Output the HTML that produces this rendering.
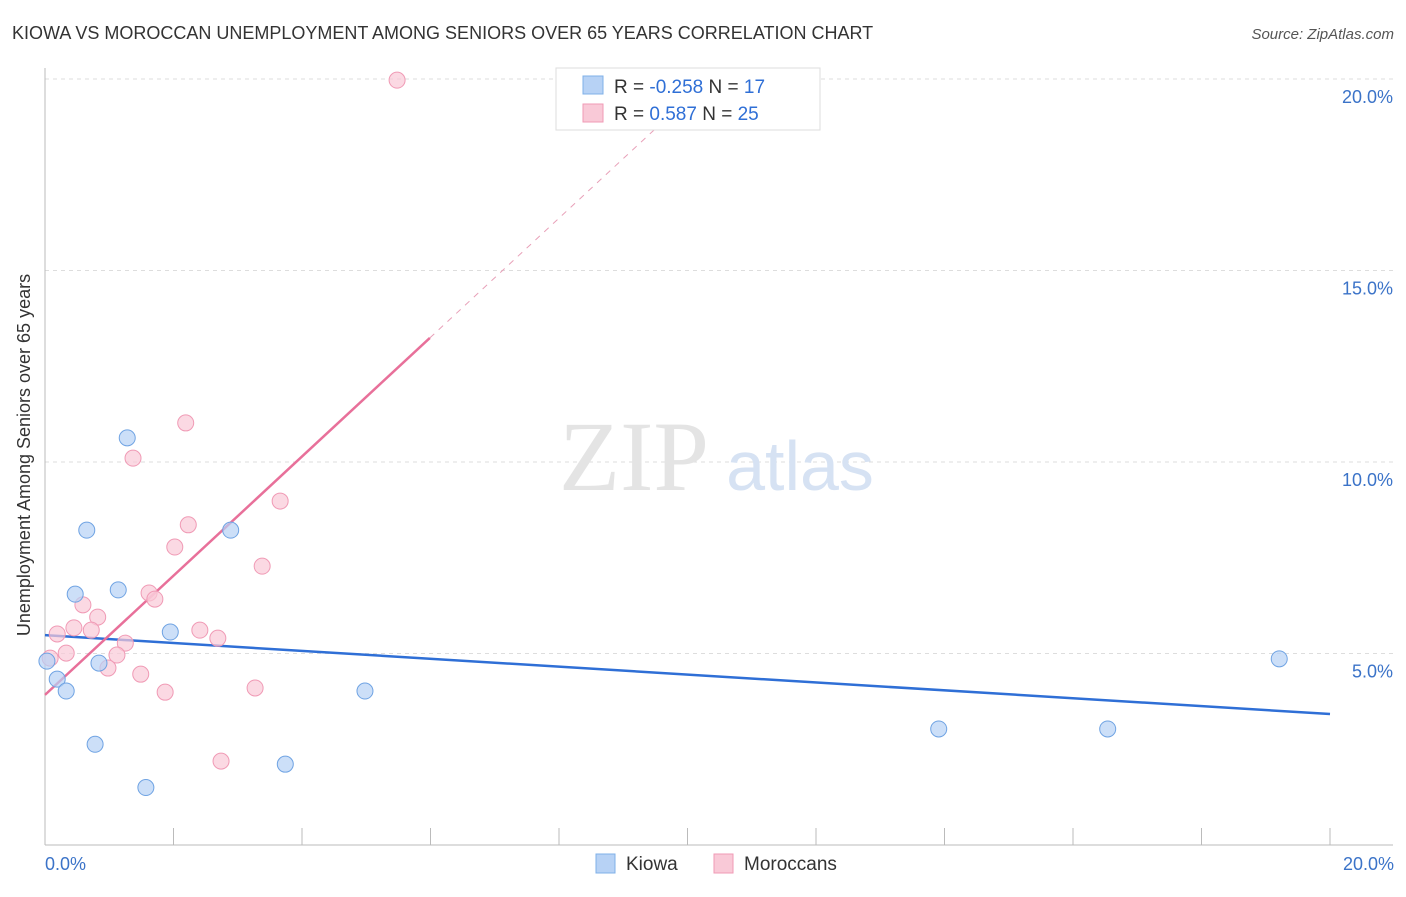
<!DOCTYPE html>
<html><head><meta charset="utf-8"><style>
body{margin:0;background:#fff;font-family:"Liberation Sans",sans-serif;}
</style></head><body>
<svg width="1406" height="892" xmlns="http://www.w3.org/2000/svg" font-family="Liberation Sans, sans-serif">
<text x="12" y="39" font-size="18" fill="#333">KIOWA VS MOROCCAN UNEMPLOYMENT AMONG SENIORS OVER 65 YEARS CORRELATION CHART</text>
<text x="1394" y="39" font-size="15" fill="#555" font-style="italic" text-anchor="end">Source: ZipAtlas.com</text>
<g id="grid"></g>
<text x="634" y="490" font-size="100" fill="#e4e4e4" font-family="Liberation Serif, serif" text-anchor="middle">ZIP</text>
<text x="800" y="490" font-size="70" fill="#d6e2f3" text-anchor="middle">atlas</text>
<g id="lines"></g>
<g id="pts"></g>
<text x="30" y="455" font-size="18" fill="#333" text-anchor="middle" transform="rotate(-90 30 455)">Unemployment Among Seniors over 65 years</text>
<text x="45" y="870" font-size="18" fill="#3b73c8">0.0%</text>
<text x="1394" y="870" font-size="18" fill="#3b73c8" text-anchor="end">20.0%</text>
<g>
<rect x="556" y="68" width="264" height="62" fill="#fff" stroke="#ddd"/>
<rect x="583" y="76" width="20" height="18" fill="#b7d2f5" stroke="#7fb0e8"/>
<rect x="583" y="104" width="20" height="18" fill="#f9c9d7" stroke="#f09ab5"/>
<text x="614" y="93" font-size="19" fill="#333">R = <tspan fill="#2f6fd6">-0.258</tspan>   N = <tspan fill="#2f6fd6"> 17</tspan></text>
<text x="614" y="120" font-size="19" fill="#333">R =   <tspan fill="#2f6fd6">0.587</tspan>   N = <tspan fill="#2f6fd6">25</tspan></text>
</g>
<g>
<rect x="596" y="854" width="19" height="19" fill="#b7d2f5" stroke="#7fb0e8"/>
<text x="626" y="870" font-size="19" fill="#333">Kiowa</text>
<rect x="714" y="854" width="19" height="19" fill="#f9c9d7" stroke="#f09ab5"/>
<text x="744" y="870" font-size="19" fill="#333">Moroccans</text>
</g>
</svg>
<script>
const yTicks=[5,10,15,20];
const yTickLabels=["5.0%","10.0%","15.0%","20.0%"];
const kiowaX=[0.03,0.19,0.33,0.47,0.65,0.78,0.84,1.14,1.28,1.57,1.95,2.89,3.74,4.98,13.91,16.54,19.21];
const kiowaY=[4.8,4.33,4.02,6.55,8.22,2.63,4.75,6.66,10.63,1.5,5.56,8.22,2.11,4.02,3.03,3.03,4.86];
const morX=[5.48,2.19,1.37,3.66,2.23,2.02,3.38,1.62,1.71,0.59,0.82,0.45,0.19,0.72,2.41,2.69,1.25,0.33,1.12,0.08,0.98,1.49,1.87,3.27,2.74];
const morY=[19.97,11.02,10.1,8.98,8.36,7.78,7.28,6.58,6.42,6.27,5.95,5.67,5.51,5.61,5.61,5.4,5.27,5.01,4.96,4.88,4.62,4.46,3.99,4.1,2.19];
const kiowaLine=[[0,5.48],[20,3.42]];
const morLine=[[0,3.92],[5.99,13.24]];
const morDash=[[5.99,13.24],[9.5,18.7]];
const NS="http://www.w3.org/2000/svg";
const X=v=>45+v*64.25, Y=v=>845-v*38.3;
function mk(t,a,p){const e=document.createElementNS(NS,t);for(const k in a)e.setAttribute(k,a[k]);p.appendChild(e);return e;}
const g=document.getElementById('grid');
yTicks.forEach((t,i)=>{
 const l=mk('line',{x1:45,x2:1393,y1:Y(t),y2:Y(t),stroke:'#ddd','stroke-dasharray':'4,4'},g);
 
 
 const tx=mk('text',{x:1393,y:Y(t)+24,'font-size':18,fill:'#3b73c8','text-anchor':'end'},g);
 tx.textContent=yTickLabels[i];
 
 
});
const ax=mk('line',{x1:45,x2:45,y1:68,y2:845,stroke:'#bbb'},g);


const bx=mk('line',{x1:45,x2:1393,y1:845,y2:845,stroke:'#bbb'},g);


for(let i=0;i<=20;i+=2){const t=mk('line',{x1:X(i),x2:X(i),y1:828,y2:845,stroke:'#bbb'},g);
 
 }
const L=document.getElementById('lines');
function ln(d,c,n,dash){const e=mk('line',{x1:X(d[0][0]),y1:Y(d[0][1]),x2:X(d[1][0]),y2:Y(d[1][1]),stroke:c,'stroke-width':dash?1:2.5},L);
 if(dash)e.setAttribute('stroke-dasharray','6,6');
 
 }
ln(kiowaLine,'#2f6fd6','kiowa-trendline');
ln(morLine,'#e8709a','moroccan-trendline');
ln(morDash,'#e8a0b8','moroccan-trendline-extension',true);
const P=document.getElementById('pts');
morX.forEach((x,i)=>{const c=mk('circle',{cx:X(x),cy:Y(morY[i]),r:8,fill:'#f9c9d7','fill-opacity':0.7,stroke:'#f09ab5'},P);
 
 });
kiowaX.forEach((x,i)=>{const c=mk('circle',{cx:X(x),cy:Y(kiowaY[i]),r:8,fill:'#b7d2f5','fill-opacity':0.7,stroke:'#6fa3e3'},P);
 
 });
</script>
</body></html>
